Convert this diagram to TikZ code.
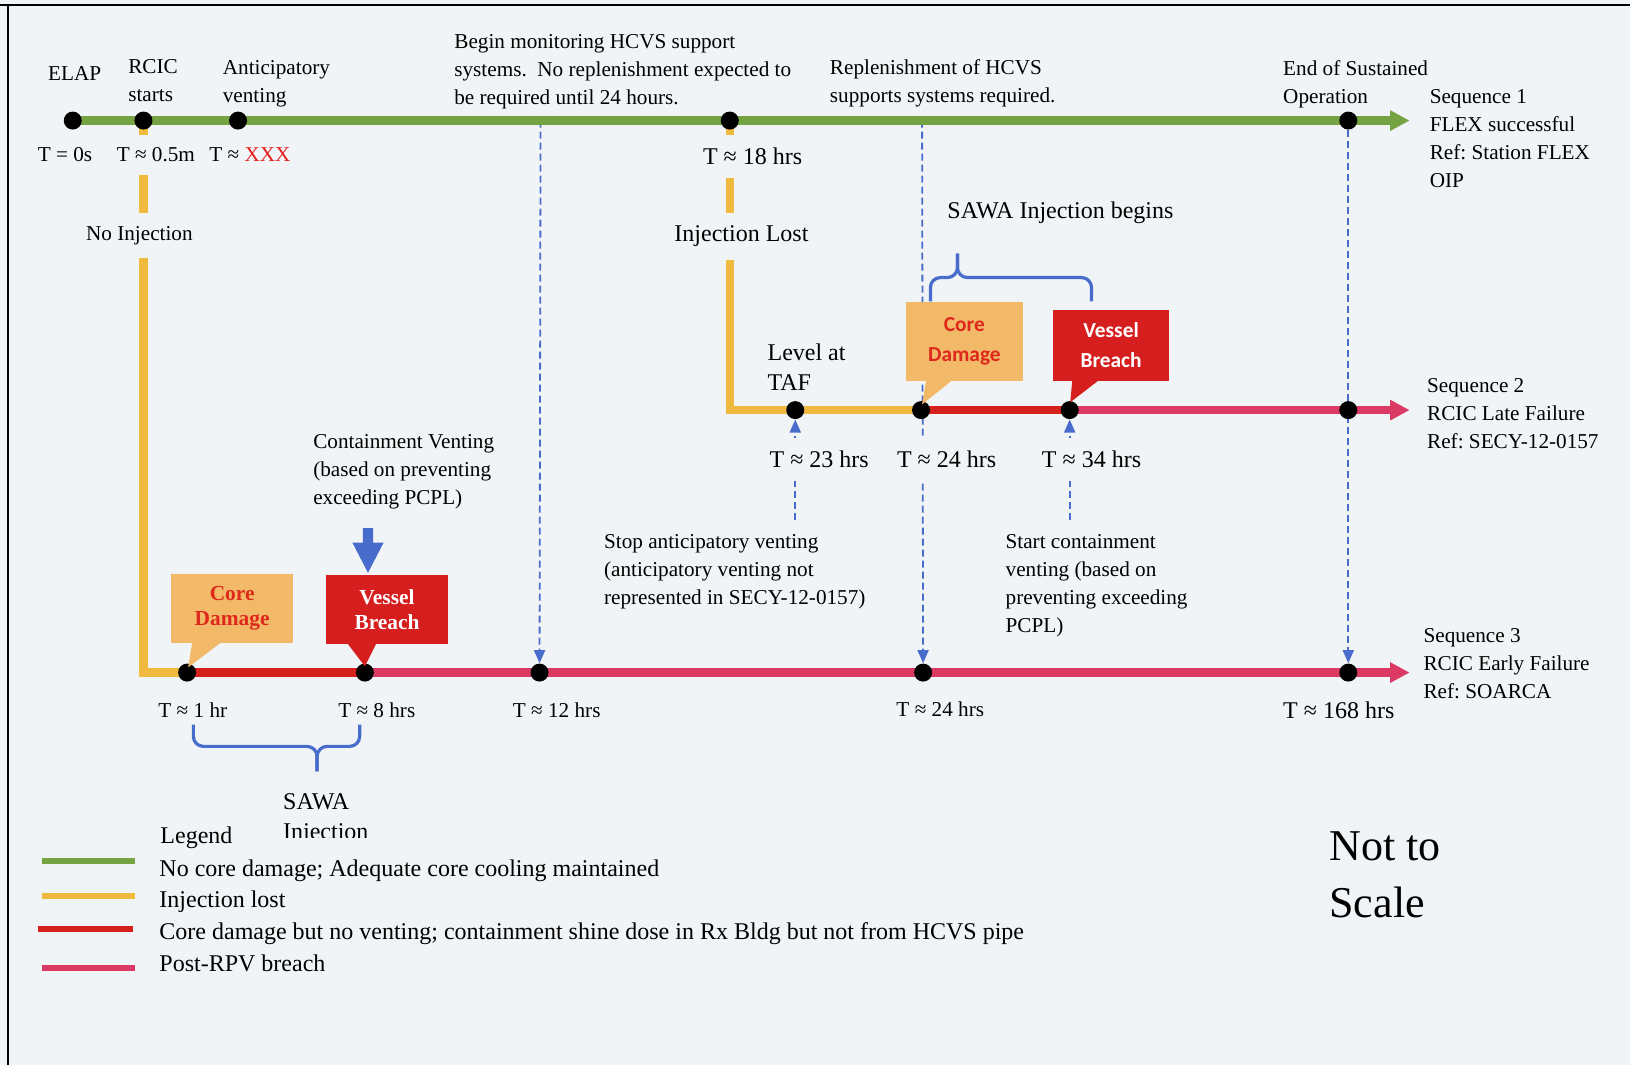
\documentclass[tikz,border=0pt]{standalone}
\usepackage{fontspec}
\setmainfont{Liberation Serif}
\newfontfamily\calib{Carlito}
\usetikzlibrary{arrows.meta}
\pgfdeclarelayer{back}
\pgfsetlayers{back,main}
\definecolor{bgc}{RGB}{241,244,246}
\definecolor{lgreen}{RGB}{118,163,66}
\definecolor{lyellow}{RGB}{240,186,62}
\definecolor{lred}{RGB}{214,32,28}
\definecolor{lpink}{RGB}{218,58,100}
\definecolor{cdfill}{RGB}{242,186,104}
\definecolor{vbfill}{RGB}{214,30,30}
\definecolor{cdtext}{RGB}{222,40,28}
\definecolor{lblue}{RGB}{72,108,204}
\definecolor{xred}{RGB}{232,30,30}
\newcommand{\mlines}[1]{\begin{tabular}[t]{@{}l@{}}#1\end{tabular}}
\frenchspacing
\begin{document}
\begin{tikzpicture}[x=0.51977pt,y=-0.51977pt,
  dot/.style={circle, fill=black, inner sep=0pt, minimum size=9pt},
  tl/.style={line width=4.2pt},
  tip/.style={-{Triangle[length=9.7pt,width=9.6pt]}},
  vdash/.style={lblue, line width=0.9pt, dash pattern=on 3.5pt off 2pt, -{Triangle[length=6.5pt,width=5.5pt]}},
  lab/.style={inner sep=0pt, anchor=base west, font=\fontsize{10.6}{14}\selectfont},
  labL/.style={inner sep=0pt, anchor=base west, font=\fontsize{12}{15}\selectfont},
  gap/.style={fill=bgc, inner ysep=6.5pt, inner xsep=1pt},
  brace/.style={lblue, line width=1.6pt, rounded corners=5pt},
  cbox/.style={inner sep=0pt, align=center}]
\useasboundingbox (0,0) rectangle (1568,1024);

% ---------- dots ----------
\node[dot] (elapd) at (70,116) {};
\node[dot] (rcicd) at (138,116) {};
\node[dot] (antd) at (229,116) {};
\node[dot] (h18) at (702,116) {};
\node[dot] (eosd) at (1297,116) {};
\coordinate (s1end) at (1356,116);
\coordinate (v12) at (520,116);
\coordinate (v24) at (887,116);

\node[dot] (tafd) at (765,394.5) {};
\node[dot] (cd2d) at (886,394.5) {};
\node[dot] (vb2d) at (1029,394.5) {};
\node[dot] (s2e) at (1297,394.5) {};
\coordinate (s2end) at (1356,394.5);
\coordinate (u23) at (765,500);
\coordinate (u34) at (1029,500);

\node[dot] (cd3d) at (180,647) {};
\node[dot] (vb3d) at (351,647) {};
\node[dot] (h12) at (519,647) {};
\node[dot] (h24) at (888,647) {};
\node[dot] (h168) at (1297,647) {};
\coordinate (s3end) at (1356,647);

\begin{pgfonlayer}{back}
\fill[bgc] (0,0) rectangle (1568,1024);
\draw[line width=1.4pt] (0,4.8) -- (1568,4.8);
\draw[line width=0.9pt] (8,4.8) -- (8,1024);
% dashed guides
\draw[vdash] (v12) -- (h12);
\draw[vdash] (v24) -- (h24);
\draw[vdash] (eosd) -- (h168);
\draw[vdash] (u23) -- (tafd);
\draw[vdash] (u34) -- (vb2d);
% timelines
\draw[tl, lgreen, tip] (elapd.center) -- (s1end);
\draw[tl, lyellow, line join=miter] (rcicd.center) |- (cd3d.center);
\draw[tl, lyellow, line join=miter] (h18.center) |- (cd2d.center);
\draw[tl, lred] (cd2d.center) -- (vb2d.center);
\draw[tl, lpink, tip] (vb2d.center) -- (s2end);
\draw[tl, lred] (cd3d.center) -- (vb3d.center);
\draw[tl, lpink, tip] (vb3d.center) -- (s3end);
\end{pgfonlayer}

% ---------- callouts ----------
\node[cbox, fill=cdfill, minimum width=61pt, minimum height=34.8pt, text=cdtext,
  font=\bfseries\fontsize{10.7}{12.5}\selectfont] (cd3) at (223.3,585.5) {Core\\Damage};
\fill[cdfill] (185,617) -- (181,642) -- (214,617) -- cycle;
\node[cbox, fill=vbfill, minimum width=61pt, minimum height=34.8pt, text=white,
  font=\bfseries\fontsize{10.7}{12.5}\selectfont] (vb3) at (372.3,586.5) {Vessel\\Breach};
\fill[vbfill] (333.5,618) -- (351,641) -- (362.5,618) -- cycle;

\node[cbox, fill=cdfill, minimum width=58.5pt, minimum height=39.4pt, text=cdtext,
  font=\calib\bfseries\fontsize{10.7}{15}\selectfont] (cd2) at (927.7,328.6) {Core\\Damage};
\fill[cdfill] (891,365) -- (887,389) -- (917,365) -- cycle;
\node[cbox, fill=vbfill, minimum width=58pt, minimum height=35.6pt, text=white,
  font=\calib\bfseries\fontsize{10.7}{15}\selectfont] (vb2) at (1068.8,332.2) {Vessel\\Breach};
\fill[vbfill] (1031.6,365) -- (1029.5,387) -- (1058,365) -- cycle;

% braces
\draw[brace] (895,290) -- (895,267) -- (921,267) -- (921,244);
\draw[brace] (1050,290) -- (1050,267) -- (921,267) -- (921,244);
\draw[brace] (186,697) -- (186,718) -- (305,718) -- (305,742);
\draw[brace] (346,697) -- (346,718) -- (305,718) -- (305,742);

% big venting arrow
\fill[lblue] (349,508) -- (359,508) -- (359,522) -- (369,522) -- (354,551) -- (339,522) -- (349,522) -- cycle;

% ---------- texts: sequence 1 ----------
\node[lab] (elap) at (46,77) {ELAP};
\node[lab] (rcic) at (123,70.6) {\mlines{RCIC\\starts}};
\node[lab] (antic) at (214,72) {\mlines{Anticipatory\\venting}};
\node[lab] (begin) at (436.7,46.5) {\mlines{Begin monitoring HCVS support\\systems.\ \ No replenishment expected to\\be required until 24 hours.}};
\node[lab] (repl) at (798,72) {\mlines{Replenishment of HCVS\\supports systems required.}};
\node[lab] (eos) at (1234,73) {\mlines{End of Sustained\\Operation}};
\node[lab] (seq1) at (1375,99.5) {\mlines{Sequence 1\\FLEX successful\\Ref: Station FLEX\\OIP}};
\node[lab] (t0) at (36,155.5) {T = 0s};
\node[lab,gap] (t05) at (110,155.5) {T ≈ 0.5m};
\node[lab] (txxx) at (201,155.5) {T ≈ \textcolor{xred}{XXX}};
\node[labL,gap] (t18) at (674,158.7) {T ≈ 18 hrs};
\node[lab,gap] (noinj) at (80.5,231) {No Injection};
\node[labL,gap] (injlost) at (646.5,232.5) {Injection Lost};

% ---------- texts: sequence 2 ----------
\node[labL] (sawab) at (911,210) {SAWA Injection begins};
\node[labL] (taf) at (738,346.5) {\mlines{Level at\\TAF}};
\node[labL,gap] (t23) at (738,450) {T ≈ 23 hrs};
\node[labL,gap] (t24b) at (860.6,450) {T ≈ 24 hrs};
\node[labL,gap] (t34) at (1000,450) {T ≈ 34 hrs};
\node[lab] (seq2) at (1372.5,378) {\mlines{Sequence 2\\RCIC Late Failure\\Ref: SECY-12-0157}};

% ---------- texts: sequence 3 ----------
\node[lab] (cv) at (301,431) {\mlines{Containment Venting\\(based on preventing\\exceeding PCPL)}};
\node[lab] (stop) at (580.7,527.5) {\mlines{Stop anticipatory venting\\(anticipatory venting not\\represented in SECY-12-0157)}};
\node[lab] (start) at (967,527.5) {\mlines{Start containment\\venting (based on\\preventing exceeding\\PCPL)}};
\node[lab] (seq3) at (1369,618) {\mlines{Sequence 3\\RCIC Early Failure\\Ref: SOARCA}};
\node[lab] (t1) at (152,690) {T ≈ 1 hr};
\node[lab] (t8) at (325,690) {T ≈ 8 hrs};
\node[lab] (t12) at (493,690) {T ≈ 12 hrs};
\node[lab] (t24c) at (862,689.4) {T ≈ 24 hrs};
\node[labL] (t168) at (1234,691) {T ≈ 168 hrs};
\begin{scope}
\clip (255,750) rectangle (420,806);
\node[labL] (sawai) at (272,779) {\mlines{SAWA\\Injection}};
\end{scope}

% ---------- legend ----------
\node[labL] (leg) at (154,811) {Legend};
\draw[lgreen, line width=3pt] (40.5,828) -- (130,828);
\draw[lyellow, line width=3pt] (40.5,862) -- (130,862);
\draw[lred, line width=3pt] (37,894) -- (128,894);
\draw[lpink, line width=3pt] (40.5,931) -- (130,931);
\node[labL] (l1) at (153,843.4) {No core damage; Adequate core cooling maintained};
\node[labL] (l2) at (153,872.6) {Injection lost};
\node[labL] (l3) at (153,904) {Core damage but no venting; containment shine dose in Rx Bldg but not from HCVS pipe};
\node[labL] (l4) at (153,934.7) {Post-RPV breach};
\node[inner sep=0pt, anchor=base west, font=\fontsize{22}{28.6}\selectfont] (nts) at (1278.5,828) {\mlines{Not to\\Scale}};
\end{tikzpicture}
\end{document}
